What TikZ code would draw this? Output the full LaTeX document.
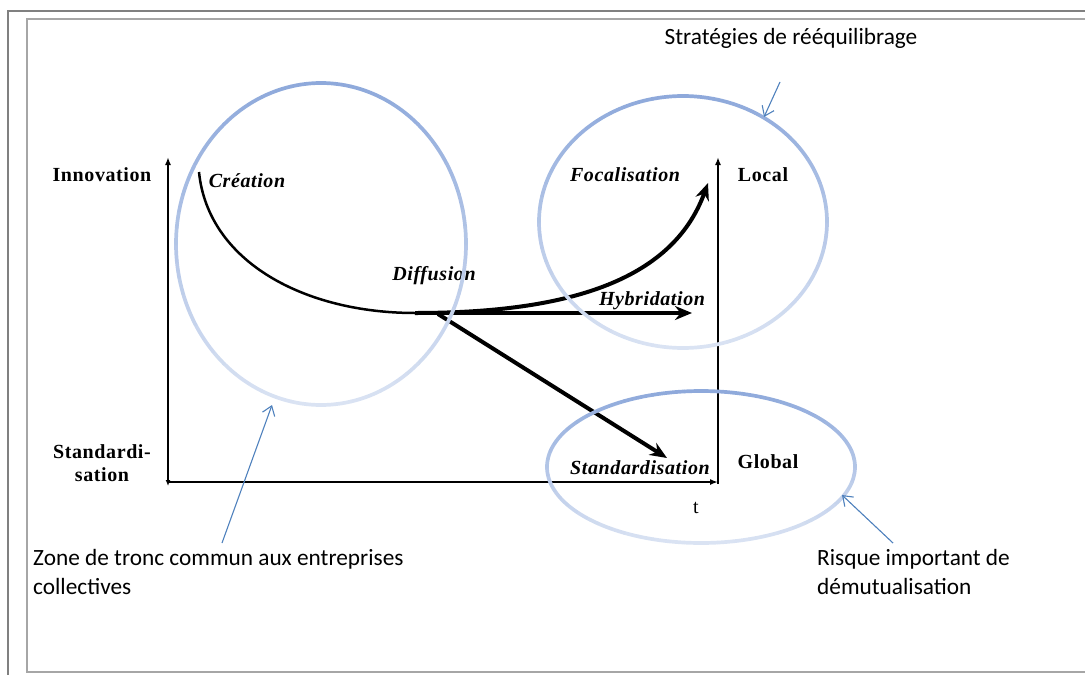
\documentclass[tikz,border=0pt]{standalone}
\usepackage{fontspec}
\setmainfont{Liberation Serif}
\newfontfamily\spaced[LetterSpace=3]{Liberation Serif}
\newfontfamily\calibri{Carlito}
\usetikzlibrary{arrows.meta}
\definecolor{zonedark}{RGB}{142,169,219}
\definecolor{zonepale}{RGB}{218,227,243}
\definecolor{noteblue}{RGB}{79,129,189}
\tikzset{
  axis/.style={line width=2pt,-{Latex[length=8pt,width=6pt]}},
  flow/.style={line width=4pt,-{Stealth[length=17pt,width=14pt]}},
  note/.style={noteblue,line width=1.1pt,-{Straight Barb[length=9pt,width=13pt]}},
  lab/.style={font=\fontsize{20}{23}\selectfont\spaced\bfseries,inner sep=0pt},
  stage/.style={font=\fontsize{20}{23}\selectfont\spaced\bfseries\itshape,inner sep=0pt},
  remark/.style={font=\fontsize{23.3}{29}\selectfont\calibri,inner sep=0pt,align=left},
}
% ring drawn piece by piece, dark on top and pale at the bottom
\newcommand{\zonering}[4]{%
  \foreach \a in {0,6,...,354}{%
    \pgfmathsetmacro\mix{50-50*sin(\a+3)}%
    \draw[zonedark!\mix!zonepale,line width=3.7pt,line cap=round]
      plot[domain=\a:\a+6,samples=4,variable=\t] ({#1+#3*cos(\t)},{#2+#4*sin(\t)});
  }%
}

\begin{document}
\begin{tikzpicture}[x=1pt,y=-1pt]
  \useasboundingbox (0,0) rectangle (1085,675);
  % frames
  \draw[gray,line width=2pt] (8,676) -- (8,11) -- (1086,11);
  \draw[gray!70,line width=1.5pt] (1090,19) -- (27,19) -- (27,672) -- (1090,672);

  % axes
  \coordinate (origin) at (168,482);
  \coordinate (top) at (168,157);
  \coordinate (tend) at (718,482);
  \coordinate (rtop) at (718,157);
  \draw[line width=2pt,{Latex[length=6pt,width=5pt]}-{Latex[length=8pt,width=6pt]}] (168,486) -- (top);
  \draw[axis] (origin) -- (tend);
  \draw[line width=2pt,-{Latex[length=8pt,width=6pt]}] (718,484) -- (rtop);

  \node[lab] (innov) at (102,175) {Innovation};
  \node[lab,align=center] (stdaxis) at (102,463) {Standardi-\\sation};
  \node[lab] (local) at (763,175) {Local};
  \node[lab] (global) at (768,462) {Global};
  \node[font=\fontsize{20}{23}\selectfont,inner sep=0pt] (t) at (696,508) {t};

  % trajectory
  \coordinate (start) at (199,172);
  \coordinate (fork) at (415,313);
  \coordinate (focend) at (708,183);
  \coordinate (hybend) at (692,313);
  \coordinate (stdend) at (667,458);
  \draw[line width=2.5pt] (start) .. controls (208,262) and (305,313) .. (fork);
  \draw[flow] (fork) .. controls (565,313) and (672,282) .. (focend);
  \draw[flow,line width=3.5pt] (fork) -- (hybend);
  \draw[flow] (438,314) -- (stdend);

  \node[stage] (creation) at (247,181) {Création};
  \node[stage] (diffusion) at (434,276) {Diffusion};
  \node[stage] (focal) at (625,175) {Focalisation};
  \node[stage] (hybrid) at (652,301) {Hybridation};
  \node[stage] (stdflow) at (640,468) {Standardisation};

  % zones
  \zonering{321}{244}{145}{161}
  \zonering{683}{222}{144}{126}
  \zonering{701}{467}{154}{76}

  % remarks
  \node[remark] (strat) at (791,38) {Stratégies de rééquilibrage};
  \node[remark,anchor=west] (zone) at (33,572) {Zone de tronc commun aux entreprises\\collectives};
  \node[remark,anchor=west] (risque) at (817,572) {Risque important de\\démutualisation};
  \coordinate (sfoot) at (780,82);
  \coordinate (stip) at (764,117);
  \coordinate (zfoot) at (222,543);
  \coordinate (ztip) at (272,405);
  \coordinate (rfoot) at (893,543);
  \coordinate (rtip) at (842,495);
  \draw[note] (sfoot) -- (stip);
  \draw[note] (zfoot) -- (ztip);
  \draw[note] (rfoot) -- (rtip);
\end{tikzpicture}
\end{document}
